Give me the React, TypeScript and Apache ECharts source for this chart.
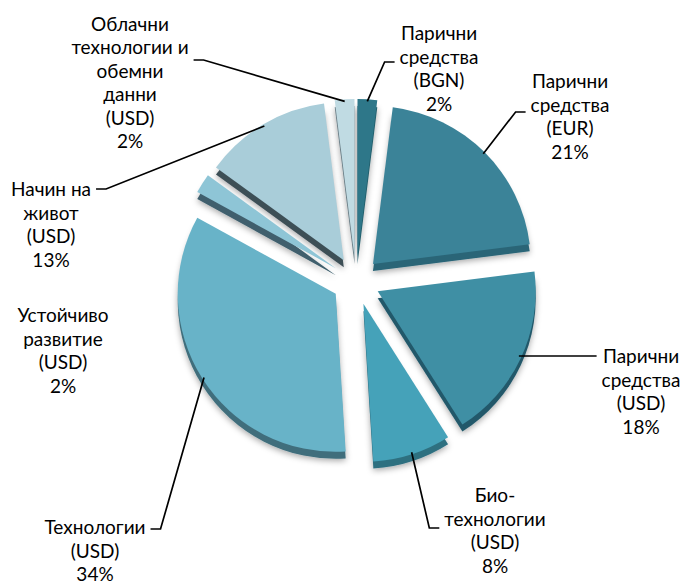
import React, { useEffect, useRef } from "react";
import * as echarts from "echarts";

const categories = [
  "Парични\nсредства\n(BGN)",
  "Парични\nсредства\n(EUR)",
  "Парични\nсредства\n(USD)",
  "Био-\nтехнологии\n(USD)",
  "Технологии\n(USD)",
  "Устойчиво\nразвитие\n(USD)",
  "Начин на\nживот\n(USD)",
  "Облачни\nтехнологии и\nобемни\nданни\n(USD)",
];
const values = [2, 21, 18, 8, 34, 2, 13, 2];
const colors = ["#2e7789", "#3b8398", "#3f8fa4", "#45a2b9", "#68b3c8", "#8ec5d6", "#a9cdd9", "#c0dbe3"];
const sideColors = ["#245e6c", "#2a6577", "#23596a", "#2f6f80", "#3f6e7c", "#3f5f6d", "#3e4f57", "#6b7e86"];
// label layout (positions only)
const labelPos: [number, number][] = [
  [439, 68],
  [570, 116],
  [641, 391],
  [495, 530],
  [95, 550],
  [63, 350],
  [51, 224],
  [130, 82],
];
const hookSide = [-1, -1, -1, -1, 1, 0, 1, 1];
const hookDy = [-6, -4, -35, -2, -21, 0, -35, -22];
const hookLen = [10, 10, 0, 10, 10, 0, 10, 10];
const showLine = [true, true, true, true, true, false, true, true];

export default function App() {
  const ref = useRef<HTMLDivElement>(null);
  useEffect(() => {
    if (!ref.current) return;
    const chart = echarts.init(ref.current, null, { renderer: "svg" });
    const center = [356, 281];
    const radius = 158;
    const offset = 24;
    chart.setOption({
      animation: false,
      backgroundColor: "#ffffff",
      series: [
        {
          type: "pie",
          silent: true,
          center: [center[0], center[1] + 7],
          radius: radius,
          startAngle: 90,
          selectedMode: "multiple",
          selectedOffset: offset,
          label: { show: false },
          labelLine: { show: false },
          z: 1,
          data: values.map((v, i) => ({
            value: v,
            name: categories[i],
            selected: true,
            itemStyle: {
              color: sideColors[i],
              shadowBlur: 6,
              shadowColor: "rgba(0,0,0,0.35)",
              shadowOffsetY: 2,
            },
          })),
        },
        {
          type: "pie",
          silent: true,
          center: center,
          radius: radius,
          startAngle: 90,
          selectedMode: "multiple",
          selectedOffset: offset,
          z: 2,
          label: { show: false },
          labelLine: { show: false },
          data: values.map((v, i) => ({
            value: v,
            name: categories[i],
            selected: true,
            itemStyle: { color: colors[i] },
          })),
        },
        {
          type: "pie",
          silent: true,
          center: center,
          radius: [radius + offset - 4, radius + offset - 2],
          startAngle: 90,
          z: 3,
          itemStyle: { color: "rgba(0,0,0,0)" },
          label: {
            show: true,
            formatter: (p: any) => `${p.name}\n${p.value}%`,
            fontFamily: "Lato",
            fontSize: 19,
            lineHeight: 23.5,
            color: "#000000",
          },
          labelLine: {
            show: true,
            lineStyle: { color: "#000000", width: 1.7 },
          },
          labelLayout: (p: any) => {
            const i = p.dataIndex;
            const [x, y] = labelPos[i];
            const w = p.labelRect.width;
            const out: any = { x, y, align: "center", verticalAlign: "middle" };
            const pts = p.labelLinePoints;
            if (pts && pts.length && hookSide[i] !== 0) {
              const s = pts[0];
              const hx = x + hookSide[i] * (w / 2 + 5);
              const hy = y + hookDy[i];
              const mx = hx + hookSide[i] * hookLen[i];
              const sy = hookLen[i] === 0 ? hy : s[1];
              out.labelLinePoints = [[s[0], sy], [mx, hy], [hx, hy]];
            }
            return out;
          },
          emphasis: { disabled: true },
          data: values.map((v, i) => ({
            value: v,
            name: categories[i],
            labelLine: { show: showLine[i] },
          })),
        },
      ],
    });
    return () => chart.dispose();
  }, []);
  return (
    <div
      ref={ref}
      style={{ position: "fixed", left: 0, top: 0, width: 683, height: 586 }}
    />
  );
}
